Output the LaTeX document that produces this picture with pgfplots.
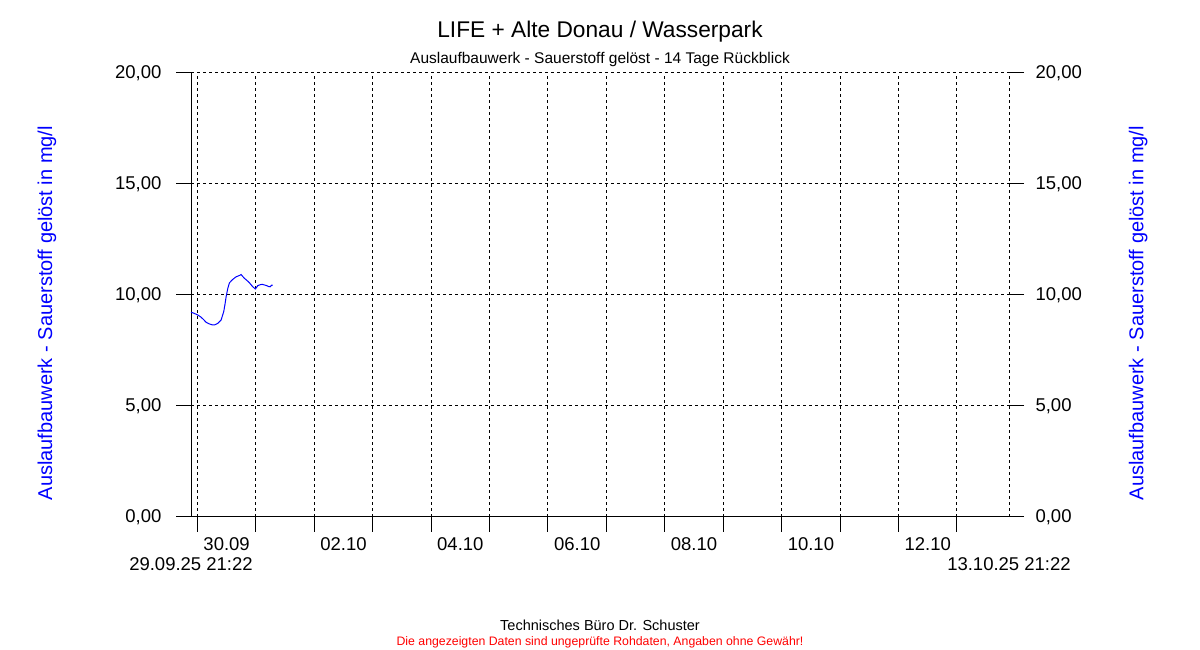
\documentclass[border=0pt]{standalone}
\usepackage{pgfplots}
\pgfplotsset{compat=1.18}
\usepackage{fontspec}
\setmainfont{Liberation Sans}
\definecolor{dblue}{RGB}{0,0,255}
\definecolor{dred}{RGB}{255,0,0}

\pgfplotstableread{
d v
0.000 9.22
0.050 9.18
0.115 9.10
0.173 9.00
0.220 8.88
0.259 8.77
0.310 8.70
0.372 8.65
0.410 8.66
0.457 8.72
0.515 8.87
0.560 9.25
0.580 9.55
0.601 9.92
0.630 10.30
0.658 10.55
0.714 10.70
0.772 10.82
0.830 10.88
0.858 10.92
0.880 10.85
0.915 10.75
0.960 10.65
1.000 10.55
1.057 10.37
1.103 10.27
1.142 10.42
1.180 10.46
1.217 10.48
1.260 10.45
1.296 10.42
1.330 10.38
1.354 10.37
1.380 10.44
1.399 10.45
}\oxygen

\begin{document}
\begin{tikzpicture}[x=1pt,y=1pt]
\path[use as bounding box] (0,0) rectangle (1200,650);
\pgfplotsset{
 common/.style={
  at={(191pt,133pt)}, anchor=south west, scale only axis,
  width=818pt, height=444pt,
  xmin=0, xmax=14, ymin=0, ymax=20,
  clip=false,
  ytick={0,5,10,15,20},
  yticklabels={{0,00},{5,00},{10,00},{15,00},{20,00}},
  tick align=outside,
  major tick length=15pt,
  every tick/.style={black, line width=1pt},
  tick label style={font=\fontsize{18.5}{20}\selectfont},
  axis line style={black, line width=1pt, -},
  every axis y label/.style={rotate=90, anchor=center, text=dblue, font=\fontsize{20}{24}\selectfont},
 }
}
\begin{axis}[common,
  axis x line*=bottom, axis y line*=left,
  xtick={0.1097,1.1097,2.1097,3.1097,4.1097,5.1097,6.1097,7.1097,8.1097,9.1097,10.1097,11.1097,12.1097,13.1097},
  xticklabels={},
  grid=major,
  major grid style={black, line width=1pt, dash pattern=on 3pt off 3pt},
  extra x ticks={0.6097,2.6097,4.6097,6.6097,8.6097,10.6097,12.6097},
  extra x tick labels={30.09,02.10,04.10,06.10,08.10,10.10,12.10},
  extra x tick style={grid=none, major tick length=0pt, xticklabel style={anchor=base, yshift=-33.7pt}},
  yticklabel style={anchor=east, xshift=-11pt},
  ylabel={Auslaufbauwerk - Sauerstoff gelöst in mg/l},
  ylabel style={at={(axis description cs:-0.176,0.459)}},
]
\draw[black, line width=1pt, dash pattern=on 3pt off 3pt] (axis cs:14,0) -- (axis cs:14,20);
\addplot[dblue, line width=1pt, mark=none] table[x=d, y=v] {\oxygen};
\node[anchor=base, font=\fontsize{18.5}{20}\selectfont] at (axis cs:0,0) [yshift=-54pt] {29.09.25 21:22};
\node[anchor=base, font=\fontsize{18.5}{20}\selectfont] at (axis cs:14,0) [yshift=-54pt] {13.10.25 21:22};
\end{axis}
\begin{axis}[common,
  axis x line=none, axis y line*=right,
  y axis line style={draw=none},
  yticklabel style={anchor=west, xshift=8pt},
  ylabel={Auslaufbauwerk - Sauerstoff gelöst in mg/l},
  ylabel style={at={(axis description cs:1.158,0.459)}},
]
\end{axis}
\node[anchor=base, font=\fontsize{22.7}{26}\selectfont] at (600,612.3) {LIFE + Alte Donau / Wasserpark};
\node[anchor=base, font=\fontsize{15.5}{18}\selectfont] at (600,586.7) {Auslaufbauwerk - Sauerstoff gelöst - 14 Tage Rückblick};
\node[anchor=base, font=\fontsize{14.5}{17}\selectfont] at (600,19.3) {Technisches Büro Dr. Schuster};
\node[anchor=base, text=dred, font=\fontsize{12.3}{14}\selectfont] at (600,4) {Die angezeigten Daten sind ungeprüfte Rohdaten, Angaben ohne Gewähr!};
\end{tikzpicture}
\end{document}
